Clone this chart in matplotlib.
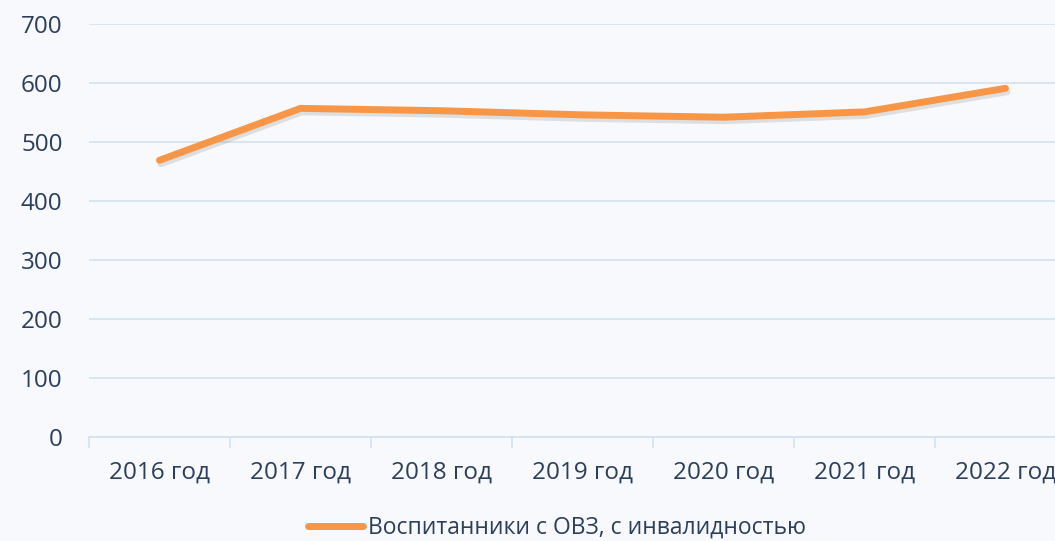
import matplotlib
matplotlib.use("Agg")
import matplotlib.pyplot as plt
import matplotlib.patheffects as pe
import numpy as np

categories = ["2016 год", "2017 год", "2018 год", "2019 год", "2020 год", "2021 год", "2022 год"]
values = [469, 557, 553, 546, 542, 551, 591]
series_name = "Воспитанники с ОВЗ, с инвалидностью"
yticks = [0, 100, 200, 300, 400, 500, 600, 700]

plt.rcParams['font.family'] = ['Open Sans', 'DejaVu Sans']
text_color = "#2a3f5c"
grid_color = "#d5e1f0"
line_color = "#f79646"

fig = plt.figure(figsize=(10.55, 5.41), dpi=100)
fig.patch.set_facecolor("#f8f9fc")
ax = fig.add_axes([89/1055, 1-437/541, (1076-89)/1055, (437-24)/541])
ax.set_facecolor("none")

x = np.arange(len(categories))
ax.plot(x, values, color=line_color, lw=5, solid_capstyle="round", solid_joinstyle="round",
        label=series_name,
        path_effects=[pe.SimpleLineShadow(offset=(1, -2.5), alpha=0.15, shadow_color="#444444"), pe.Normal()])

ax.set_xlim(-0.5, len(categories) - 0.5)
ax.set_ylim(0, 700)
ax.set_yticks(yticks)
ax.set_yticklabels([str(v) for v in yticks])
ax.set_xticks(x)
ax.set_xticklabels(categories)
ax.set_xticks(np.arange(len(categories) + 1) - 0.5, minor=True)

for s in ["top", "right", "left"]:
    ax.spines[s].set_visible(False)
ax.spines["bottom"].set_color(grid_color)
ax.spines["bottom"].set_linewidth(1.2)
ax.grid(axis="y", color=grid_color, lw=1.2)
ax.set_axisbelow(True)

ax.tick_params(axis="y", length=0, labelsize=17.5, labelcolor=text_color, pad=19)
ax.tick_params(axis="x", which="major", length=0, labelsize=17.5, labelcolor=text_color, pad=17)
ax.tick_params(axis="x", which="minor", length=8, width=1.2, color=grid_color)

leg = ax.legend(loc="center left", bbox_to_anchor=(308/1055, 1-528/541), bbox_transform=fig.transFigure,
                frameon=False, fontsize=16.5, handlelength=2.4, handletextpad=0.2, borderaxespad=0, borderpad=0)
for t in leg.get_texts():
    t.set_color(text_color)
for h in leg.get_lines():
    h.set_path_effects([])
    h.set_linewidth(5)

fig.savefig("out.png", dpi=100, facecolor=fig.get_facecolor())
